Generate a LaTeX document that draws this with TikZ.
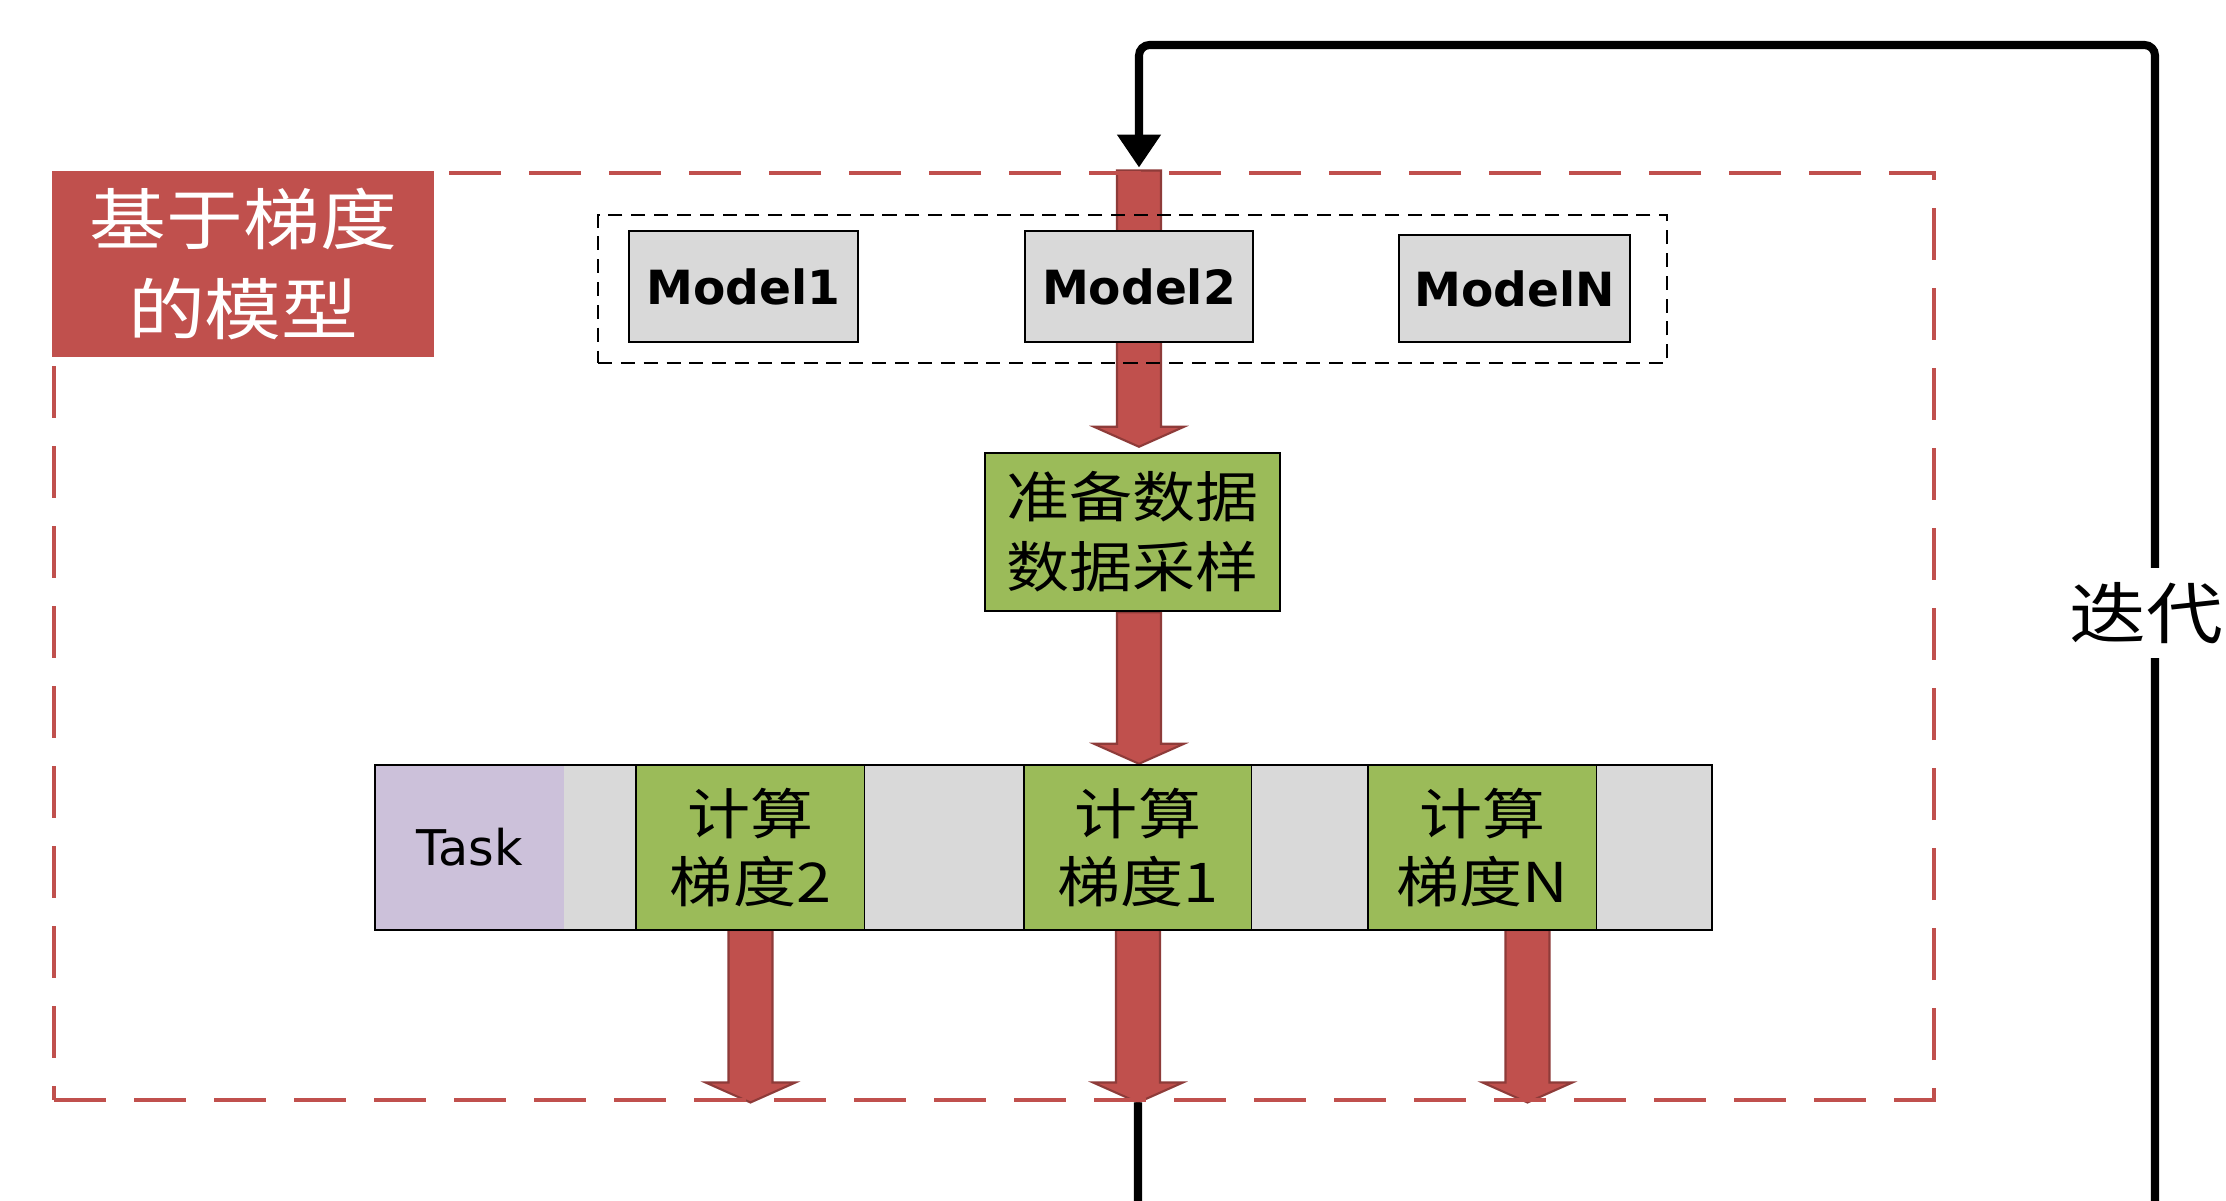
\documentclass[tikz,border=0pt]{standalone}
\usepackage{fontspec}
\setmainfont{DejaVu Sans}
\newfontfamily\cjk[FakeStretch=1.15]{Noto Sans CJK SC}
\usetikzlibrary{positioning,calc,fit,arrows.meta,backgrounds}

\definecolor{redfill}{HTML}{C0504D}
\definecolor{reddark}{HTML}{8E3B39}
\definecolor{greenfill}{HTML}{9BBB59}
\definecolor{greyfill}{HTML}{D9D9D9}
\definecolor{taskfill}{HTML}{CCC1DA}

\tikzset{
  frame/.style={draw=redfill, line width=1.4pt, dash pattern=on 0.52cm off 0.28cm},
  tagbox/.style={fill=redfill, text=white, align=center, inner sep=0pt,
    minimum width=3.82cm, minimum height=1.86cm,
    font=\cjk\fontsize{19}{25.6}\selectfont},
  modelbox/.style={draw, line width=0.7pt, fill=greyfill, inner sep=0pt,
    minimum width=2.29cm, font=\bfseries\fontsize{13.4}{16}\selectfont},
  groupbox/.style={draw, line width=0.6pt, dash pattern=on 4pt off 2.5pt,
    minimum width=10.69cm, minimum height=1.48cm},
  prepbox/.style={draw, line width=0.7pt, fill=greenfill, align=center, inner sep=0pt,
    minimum width=2.95cm, minimum height=1.58cm,
    font=\cjk\fontsize{15.6}{19.9}\selectfont},
  cell/.style={minimum height=1.65cm, inner sep=0pt, outer sep=0pt},
  taskcell/.style={cell, fill=taskfill, font=\fontsize{14}{17}\selectfont},
  gapcell/.style={cell, fill=greyfill},
  gradcell/.style={cell, draw, line width=0.7pt, fill=greenfill, align=center,
    font=\cjk\fontsize{15.6}{19.4}\selectfont},
  fatarrow/.style={draw=reddark, fill=redfill, line width=0.6pt,
    to path={let \p1=(\tikztostart), \p2=(\tikztotarget) in
      (\x1-0.22cm,\y1) -- (\x1-0.22cm,\y2+0.2cm) -- (\x1-0.45cm,\y2+0.2cm) -- (\x1,\y2)
      -- (\x1+0.45cm,\y2+0.2cm) -- (\x1+0.22cm,\y2+0.2cm) -- (\x1+0.22cm,\y1) -- cycle}},
  loopline/.style={line width=2.3pt, rounded corners=3pt},
  iterlabel/.style={fill=white, inner sep=0pt, minimum height=0.9cm,
    font=\cjk\fontsize{19}{22}\selectfont},
}

\begin{document}
\begin{tikzpicture}[>={Triangle[length=0.33cm, width=0.42cm]}]
  \useasboundingbox (0,0) rectangle (22.26,12);

  % Outer frame and its tag
  \node[frame, minimum width=18.80cm, minimum height=9.27cm] (frame) at (9.94,5.635) {};
  \node[tagbox, anchor=north west] (tag) at (frame.north west) {基于梯度\\的模型};

  % Models
  \node[modelbox, minimum height=1.11cm] (m1) at (7.435,9.135) {Model1};
  \node[modelbox, minimum height=1.11cm, minimum width=2.28cm] (m2) at (11.39,9.135) {Model2};
  \node[modelbox, minimum height=1.07cm, minimum width=2.31cm] (mN) at (15.145,9.115) {ModelN};
  \node[groupbox] (group) at (11.325,9.11) {};

  % Data preparation
  \node[prepbox] (prep) at (11.325,6.68) {准备数据\\数据采样};

  % Task bar
  \node[taskcell, minimum width=1.89cm, anchor=north west] (task) at (3.75,4.35) {Task};
  \node[gapcell, minimum width=0.72cm, right=0pt of task] (gap0) {};
  \node[gradcell, minimum width=2.29cm, right=0pt of gap0] (g2) {计算\\梯度2};
  \node[gapcell, minimum width=1.59cm, right=0pt of g2] (gapA) {};
  \node[gradcell, minimum width=2.28cm, right=0pt of gapA] (g1) {计算\\梯度1};
  \node[gapcell, minimum width=1.16cm, right=0pt of g1] (gapB) {};
  \node[gradcell, minimum width=2.29cm, right=0pt of gapB] (gN) {计算\\梯度N};
  \node[gapcell, minimum width=1.15cm, right=0pt of gN] (gapC) {};
  \node[fit=(task)(gapC), draw, line width=0.7pt, inner sep=0pt] (bar) {};

  % Red arrows, behind the boxes
  \begin{scope}[on background layer]
    \draw[fatarrow] (m2 |- frame.north) to ([yshift=0.05cm]m2 |- prep.north);
    \draw[fatarrow] (m2 |- prep.south) to (m2 |- bar.north);
    \draw[fatarrow] (g2.south) to (g2 |- frame.south);
    \draw[fatarrow] (g1.south) to (g1 |- frame.south);
    \draw[fatarrow] ([xshift=0.45cm]gN.south) to ([xshift=0.45cm]gN.south |- frame.south);
  \end{scope}

  % Iteration loop
  \draw[loopline, ->] (g1 |- frame.south) -- ++(0,-1.5) -| (21.55,11.55) -| ([yshift=0.03cm]m2 |- frame.north);
  \node[iterlabel, anchor=east] (iter) at (22.24,5.87) {迭代};
\end{tikzpicture}
\end{document}
